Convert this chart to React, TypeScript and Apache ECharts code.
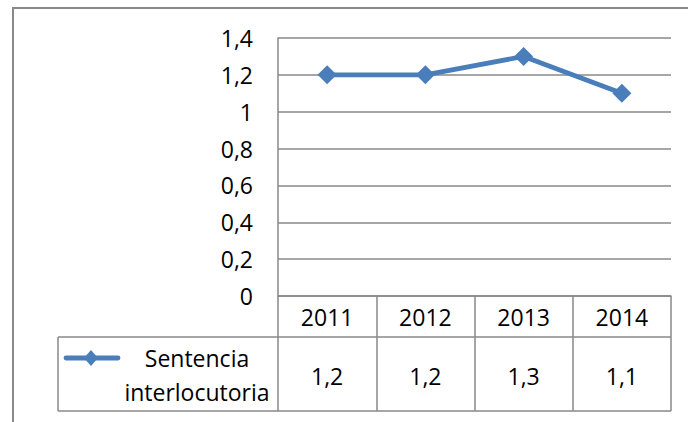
import React, { useEffect, useRef } from "react";
import * as echarts from "echarts";

const categories = ["2011", "2012", "2013", "2014"];
const seriesName = "Sentencia interlocutoria";
const values = [1.2, 1.2, 1.3, 1.1];
const yTicks = { min: 0, max: 1.4, interval: 0.2 };

const fmt = (v: number) => String(Number(v.toFixed(1))).replace(".", ",");

const FONT = "Open Sans";
const FS = 23;
const GRAY = "#898989";
const BLUE = "#4A7EBB";

const GRID = { left: 278, right: 17, top: 38, bottom: 126 };
const W = 688;
const H = 422;

export default function App() {
  const ref = useRef<HTMLDivElement>(null);
  useEffect(() => {
    if (!ref.current) return;
    const chart = echarts.init(ref.current, null, { renderer: "svg" });
    const plotRight = W - GRID.right;
    const axisY = H - GRID.bottom;
    const row1 = axisY + 41;
    const row2 = axisY + 115;
    const tableLeft = 58;
    const legendCx = 197;
    const legendLineY = 358;
    chart.setOption({
      animation: false,
      backgroundColor: "#ffffff",
      grid: { ...GRID, containLabel: false },
      xAxis: [
        {
          type: "category",
          data: categories,
          boundaryGap: true,
          axisLine: { show: true, lineStyle: { color: GRAY, width: 1.5 } },
          axisTick: { show: true, length: 115, lineStyle: { color: GRAY, width: 1.5 } },
          axisLabel: {
            margin: 21,
            verticalAlign: "middle",
            color: "#000",
            fontFamily: FONT,
            fontSize: FS,
          },
          splitLine: { show: false },
        },
        {
          type: "category",
          data: categories,
          position: "bottom",
          offset: 80,
          boundaryGap: true,
          axisLine: { show: false },
          axisTick: { show: false },
          axisLabel: {
            margin: 0,
            verticalAlign: "middle",
            color: "#000",
            fontFamily: FONT,
            fontSize: FS,
            formatter: (_v: string, i: number) => fmt(values[i]),
          },
        },
      ],
      yAxis: {
        type: "value",
        min: yTicks.min,
        max: yTicks.max,
        interval: yTicks.interval,
        axisLine: { show: true, lineStyle: { color: GRAY, width: 1.5 } },
        axisTick: { show: false },
        splitLine: { show: true, lineStyle: { color: GRAY, width: 1.5 } },
        axisLabel: {
          margin: 25,
          color: "#000",
          fontFamily: FONT,
          fontSize: FS,
          formatter: (v: number) => fmt(v),
        },
      },
      series: [
        {
          name: seriesName,
          type: "line",
          data: values,
          xAxisIndex: 0,
          symbol: "diamond",
          symbolSize: 19,
          lineStyle: { color: BLUE, width: 4.8 },
          itemStyle: { color: BLUE },
        },
      ],
      graphic: [
        {
          type: "rect",
          shape: { x: 13, y: 8, width: W + 50, height: H + 50 },
          style: { fill: "none", stroke: GRAY, lineWidth: 2 },
          silent: true,
        },
        {
          type: "line",
          shape: { x1: tableLeft, y1: row1, x2: plotRight, y2: row1 },
          style: { stroke: GRAY, lineWidth: 1.5 },
        },
        {
          type: "line",
          shape: { x1: tableLeft, y1: row2, x2: plotRight, y2: row2 },
          style: { stroke: GRAY, lineWidth: 1.5 },
        },
        {
          type: "line",
          shape: { x1: tableLeft, y1: row1, x2: tableLeft, y2: row2 },
          style: { stroke: GRAY, lineWidth: 1.5 },
        },
        {
          type: "line",
          shape: { x1: 66, y1: legendLineY, x2: 118, y2: legendLineY },
          style: { stroke: BLUE, lineWidth: 4.8, lineCap: "round" },
        },
        {
          type: "polygon",
          shape: {
            points: [
              [91, legendLineY - 8],
              [98, legendLineY],
              [91, legendLineY + 8],
              [84, legendLineY],
            ],
          },
          style: { fill: BLUE },
        },
        {
          type: "text",
          x: legendCx,
          y: 375,
          style: {
            text: "Sentencia\ninterlocutoria",
            align: "center",
            verticalAlign: "middle",
            fontFamily: FONT,
            fontSize: FS,
            lineHeight: 34,
            fill: "#000",
          },
        },
      ],
    });
    return () => chart.dispose();
  }, []);
  return (
    <div
      ref={ref}
      style={{ position: "fixed", left: 0, top: 0, width: W, height: H }}
    />
  );
}
